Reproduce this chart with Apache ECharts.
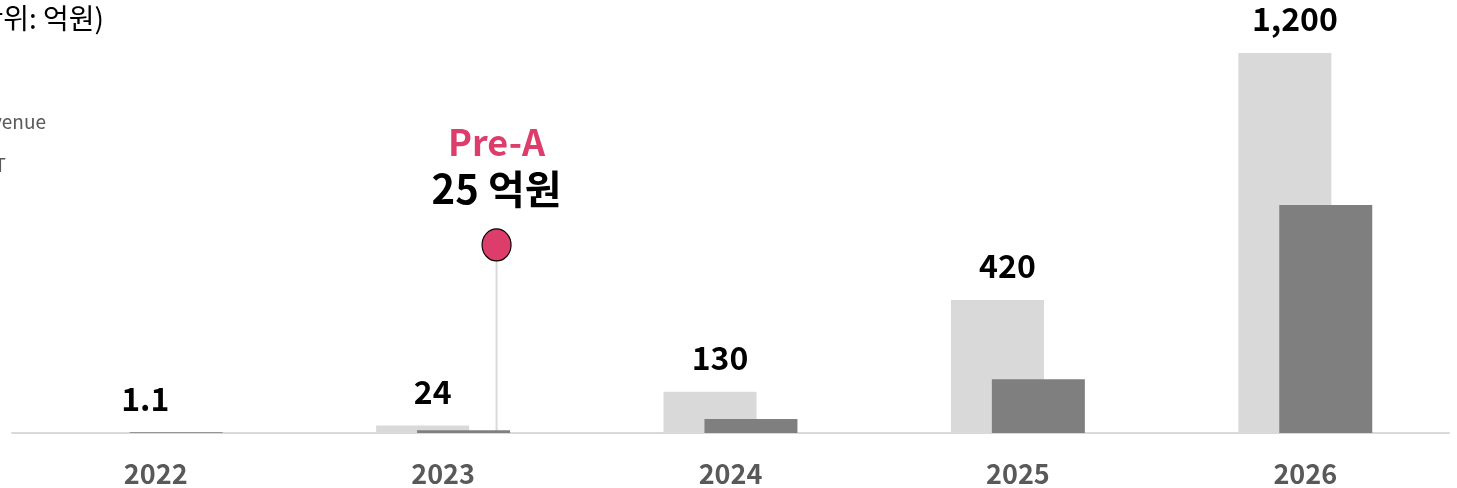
<!DOCTYPE html>
<html>
<head>
<meta charset="utf-8">
<script src="https://cdn.jsdelivr.net/npm/echarts@6/dist/echarts.min.js"></script>
<style>
  html, body { margin: 0; padding: 0; background: #fff; }
  #chart { width: 1457px; height: 488px; }
</style>
</head>
<body>
<div id="chart"></div>
<script>
// 연도별 매출 / EBIT (단위: 억원)
const years = ['2022', '2023', '2024', '2025', '2026']
const revenue = [1.1, 24, 130, 420, 1200]
const ebit = [2, 9, 44, 170, 720]
const revenueLabels = ['1.1', '24', '130', '420', '1,200']
const legendNames = ['Revenue', 'EBIT']

// Pre-A 투자 표시 (x: 카테고리 위치, y: 값)
const preAPoint = [1.686, 594]
const preALabel = ['Pre-A', '25 억원']

const font = '"Noto Sans CJK KR", "Noto Sans", sans-serif'

let myChart = echarts.init(document.getElementById('chart'))
myChart.setOption({
  animation: false,
  textStyle: { fontFamily: font },
  grid: {
    left: 12,
    right: 8,
    top: 53,
    bottom: 55
  },
  xAxis: [
    {
      type: 'category',
      data: years,
      axisTick: { show: false },
      axisLine: {
        show: true,
        lineStyle: { color: '#d9d9d9', width: 2 }
      },
      axisLabel: {
        color: '#595959',
        fontSize: 27,
        fontWeight: 'bold',
        margin: 27
      }
    },
    {
      type: 'value',
      min: 0,
      max: 5,
      show: false
    }
  ],
  yAxis: {
    type: 'value',
    min: 0,
    max: 1200,
    show: false
  },
  graphic: [
    {
      type: 'text',
      style: {
        text: '(단위: 억원)',
        x: 104,
        y: 18,
        align: 'right',
        verticalAlign: 'middle',
        fill: '#000',
        font: '28px ' + font
      }
    },
    {
      type: 'text',
      style: {
        text: legendNames[0],
        x: 46,
        y: 122,
        align: 'right',
        verticalAlign: 'middle',
        fill: '#595959',
        font: '19px ' + font
      }
    },
    {
      type: 'text',
      style: {
        text: legendNames[1],
        x: 6,
        y: 165,
        align: 'right',
        verticalAlign: 'middle',
        fill: '#595959',
        font: '19px ' + font
      }
    }
  ],
  series: [
    {
      name: legendNames[0],
      type: 'bar',
      barWidth: 93,
      barGap: '-56%',
      itemStyle: { color: '#d9d9d9' },
      label: {
        show: true,
        position: 'top',
        distance: 18,
        offset: [10, 0],
        color: '#000',
        fontSize: 32,
        fontWeight: 'bold',
        formatter: (p) => revenueLabels[p.dataIndex]
      },
      data: revenue
    },
    {
      name: legendNames[1],
      type: 'bar',
      barWidth: 93,
      itemStyle: { color: '#7f7f7f' },
      data: ebit
    },
    {
      name: 'preA-line',
      type: 'line',
      xAxisIndex: 1,
      symbol: 'none',
      z: 1,
      lineStyle: { color: '#d9d9d9', width: 2 },
      data: [[preAPoint[0], 0], preAPoint]
    },
    {
      name: 'preA',
      type: 'scatter',
      xAxisIndex: 1,
      symbolSize: [29, 32],
      z: 5,
      itemStyle: {
        color: '#dc3d6b',
        opacity: 1,
        borderColor: '#000',
        borderWidth: 1.2
      },
      label: {
        show: true,
        position: 'top',
        distance: 15,
        formatter: '{a|' + preALabel[0] + '}\n{b|' + preALabel[1] + '}',
        rich: {
          a: {
            color: '#dc3d6b',
            fontSize: 36,
            fontWeight: 'bold',
            lineHeight: 46
          },
          b: {
            color: '#000',
            fontSize: 40,
            fontWeight: 'bold',
            lineHeight: 48
          }
        }
      },
      data: [preAPoint]
    }
  ]
})
</script>
</body>
</html>
